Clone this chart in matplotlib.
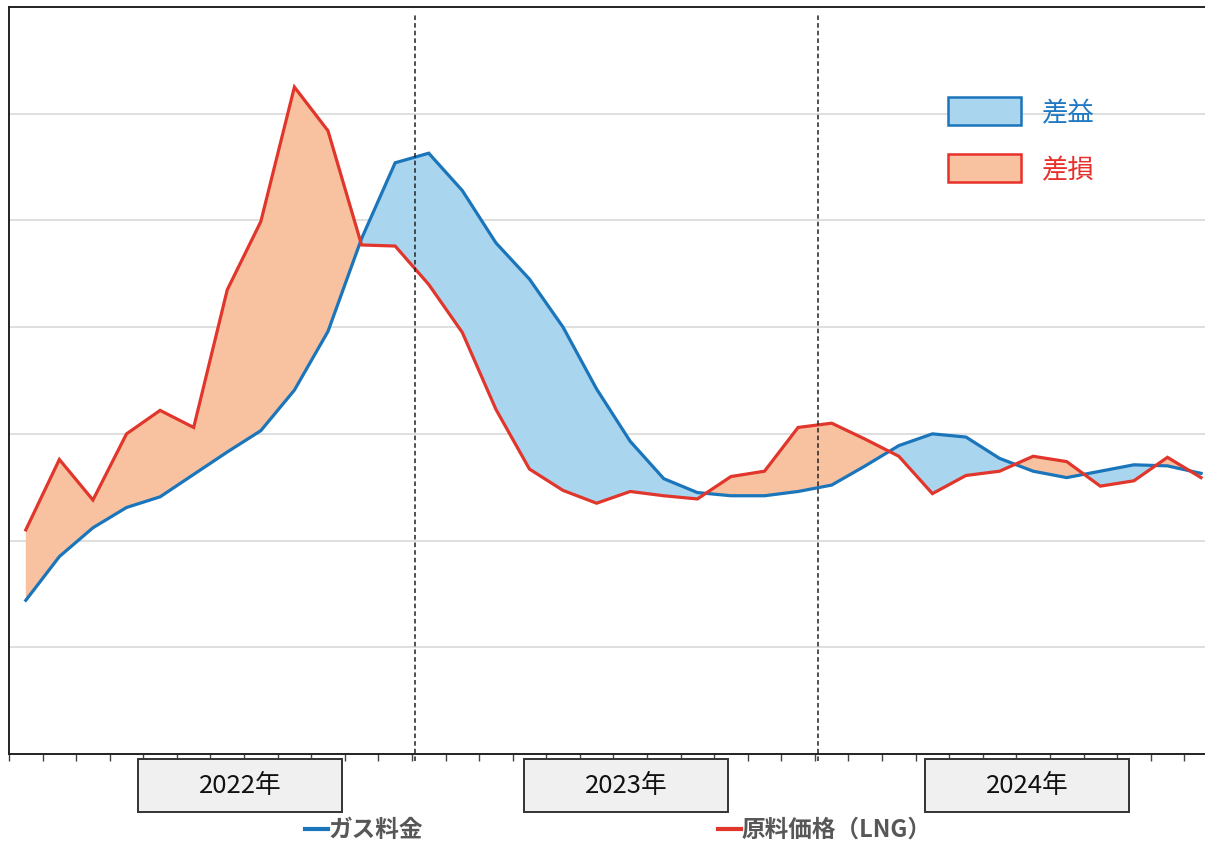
import numpy as np
import matplotlib.pyplot as plt
from matplotlib.patches import Rectangle
from matplotlib.lines import Line2D
import matplotlib.transforms as mtransforms

plt.rcParams['font.family'] = ['Noto Sans CJK JP', 'DejaVu Sans']

# 月次データ（2022年1月〜2024年12月）
months = np.arange(36)
gas_price = [1.44, 1.85, 2.12, 2.31, 2.41, 2.62, 2.83, 3.03, 3.41, 3.96, 4.83, 5.54,
             5.63, 5.28, 4.79, 4.45, 4.00, 3.42, 2.93, 2.58, 2.45, 2.42, 2.42, 2.46,
             2.52, 2.70, 2.89, 3.00, 2.97, 2.77, 2.65, 2.59, 2.65, 2.71, 2.70, 2.63]
lng_price = [2.10, 2.76, 2.38, 3.00, 3.22, 3.06, 4.35, 4.99, 6.25, 5.84, 4.77, 4.76,
             4.40, 3.95, 3.23, 2.67, 2.47, 2.35, 2.46, 2.42, 2.39, 2.60, 2.65, 3.06,
             3.10, 2.95, 2.79, 2.44, 2.61, 2.65, 2.79, 2.74, 2.51, 2.56, 2.78, 2.59]
year_labels = ['2022年', '2023年', '2024年']
year_bounds = [11.6, 23.6]
grid_levels = [1, 2, 3, 4, 5, 6]

blue_line = '#1b75bb'
red_line = '#e1362c'
blue_fill = '#a9d5ee'
red_fill = '#f8c2a0'

W, H = 1205, 841
fig = plt.figure(figsize=(W / 100, H / 100), dpi=100)
ax = fig.add_axes([9 / W, 1 - 754 / H, 1 - 9 / W + 0.002, 747 / H])

gas = np.array(gas_price)
lng = np.array(lng_price)
ax.fill_between(months, gas, lng, where=gas >= lng, interpolate=True,
                color=blue_fill, lw=0, zorder=2)
ax.fill_between(months, gas, lng, where=gas <= lng, interpolate=True,
                color=red_fill, lw=0, zorder=2)
ax.plot(months, gas, color=blue_line, lw=2.3, zorder=4, solid_joinstyle='miter')
ax.plot(months, lng, color=red_line, lw=2.3, zorder=5, solid_joinstyle='miter')

for g in grid_levels:
    ax.axhline(g, color='#d9d9d9', lw=1.2, zorder=1)

trans = mtransforms.blended_transform_factory(ax.transData, ax.transAxes)
for xb in year_bounds:
    ax.plot([xb, xb], [-0.01, 0.99], transform=trans, color='#222222', lw=1.1,
            ls=(0, (3, 2)), clip_on=False, zorder=6)

ax.set_xlim(-0.5, 35.19)
ax.set_ylim(0, 7)
ax.set_yticks([])
ax.set_xticks(np.arange(-0.5, 35.5, 1))
ax.set_xticklabels([])
ax.tick_params(axis='x', direction='out', length=5, width=1, color='#444444')
ax.spines['right'].set_visible(False)
for s in ['left', 'bottom', 'top']:
    ax.spines[s].set_color('#222222')
    ax.spines[s].set_linewidth(1.4)

# 年ラベルの箱（ピクセル位置）
box_left = [138, 524, 925]
for lab, bx in zip(year_labels, box_left):
    fig.patches.append(Rectangle((bx / W, 1 - 812 / H), 204 / W, 53 / H,
                                 transform=fig.transFigure, facecolor='#f0f0f0',
                                 edgecolor='#333333', lw=1.4))
    fig.text((bx + 102) / W, 1 - 786 / H, lab, ha='center', va='center',
             fontsize=18.5, color='#111111')

# 下の凡例
fig.lines.append(Line2D([305 / W, 328 / W], [1 - 829 / H] * 2,
                        transform=fig.transFigure, color=blue_line, lw=3))
fig.text(329 / W, 1 - 830 / H, 'ガス料金', ha='left', va='center', fontsize=17,
         fontweight='bold', color='#575757')
fig.lines.append(Line2D([718 / W, 741 / W], [1 - 829 / H] * 2,
                        transform=fig.transFigure, color=red_line, lw=3))
fig.text(741 / W, 1 - 830 / H, '原料価格（LNG）', ha='left', va='center', fontsize=17,
         fontweight='bold', color='#575757')

# 右上の凡例
for y0, fc, ec, lab, tc in [(97, blue_fill, blue_line, '差益', '#1f78c1'),
                            (154, red_fill, '#e8302a', '差損', '#e8302a')]:
    fig.patches.append(Rectangle((948 / W, 1 - (y0 + 28) / H), 73 / W, 28 / H,
                                 transform=fig.transFigure, facecolor=fc,
                                 edgecolor=ec, lw=1.8))
    fig.text(1042 / W, 1 - (y0 + 17) / H, lab, ha='left', va='center',
             fontsize=19, color=tc)

fig.savefig('out.png', dpi=100)
